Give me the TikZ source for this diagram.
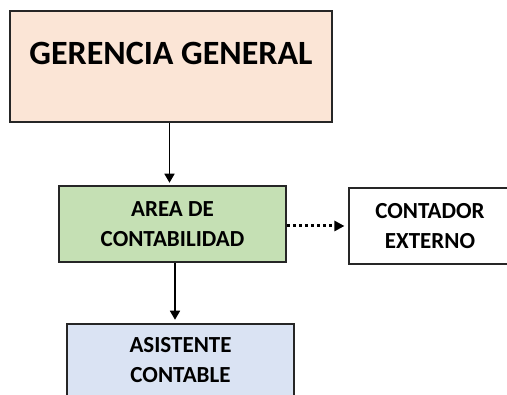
\documentclass[tikz,border=0pt]{standalone}
\usepackage{fontspec}
\setmainfont{Carlito}
\usetikzlibrary{arrows.meta,calc}
\definecolor{peach}{HTML}{FBE5D6}
\definecolor{lgreen}{HTML}{C5E0B4}
\definecolor{lblue}{HTML}{DAE3F3}
\begin{document}
\begin{tikzpicture}[x=1pt,y=-1pt,
  box/.style={draw=black!85,line width=1.5pt,rectangle,inner sep=0pt,align=center,
    font=\bfseries\fontsize{23}{30}\selectfont},
  conn/.style={line width=1.6pt,-{Triangle[length=9pt,width=10pt]}},
  dotconn/.style={line width=3pt,dash pattern=on 3pt off 3pt,-{Triangle[length=10pt,width=11pt,line width=0pt]}}]
\useasboundingbox (0,0) rectangle (507,395);
\clip (0,0) rectangle (507,395);
\node[box,fill=peach,minimum width=322pt,minimum height=111pt] (ger) at (171,66.5) {};
\node[font=\bfseries\fontsize{34}{40}\selectfont,inner sep=0pt] (gert) at (171,53) {GERENCIA GENERAL};
\node[box,fill=lgreen,minimum width=227pt,minimum height=76pt] (area) at (172.5,224) {AREA DE\\CONTABILIDAD};
\node[box,fill=white,minimum width=162pt,minimum height=76pt] (cont) at (430,226) {CONTADOR\\EXTERNO};
\node[box,fill=lblue,minimum width=227pt,minimum height=73pt] (asis) at (180.5,360.5) {ASISTENTE\\CONTABLE};
\draw[conn,shorten >=2.5pt] ([xshift=-1.5pt]ger.south) -- ([xshift=-1.5pt]ger.south |- area.north);
\draw[dotconn,shorten >=4pt] ([yshift=-2pt]area.east) -- ([yshift=-2pt]area.east -| cont.west);
\draw[conn,shorten >=3.5pt] ([xshift=2.5pt]area.south) -- ([xshift=2.5pt]area.south |- asis.north);
\end{tikzpicture}
\end{document}
